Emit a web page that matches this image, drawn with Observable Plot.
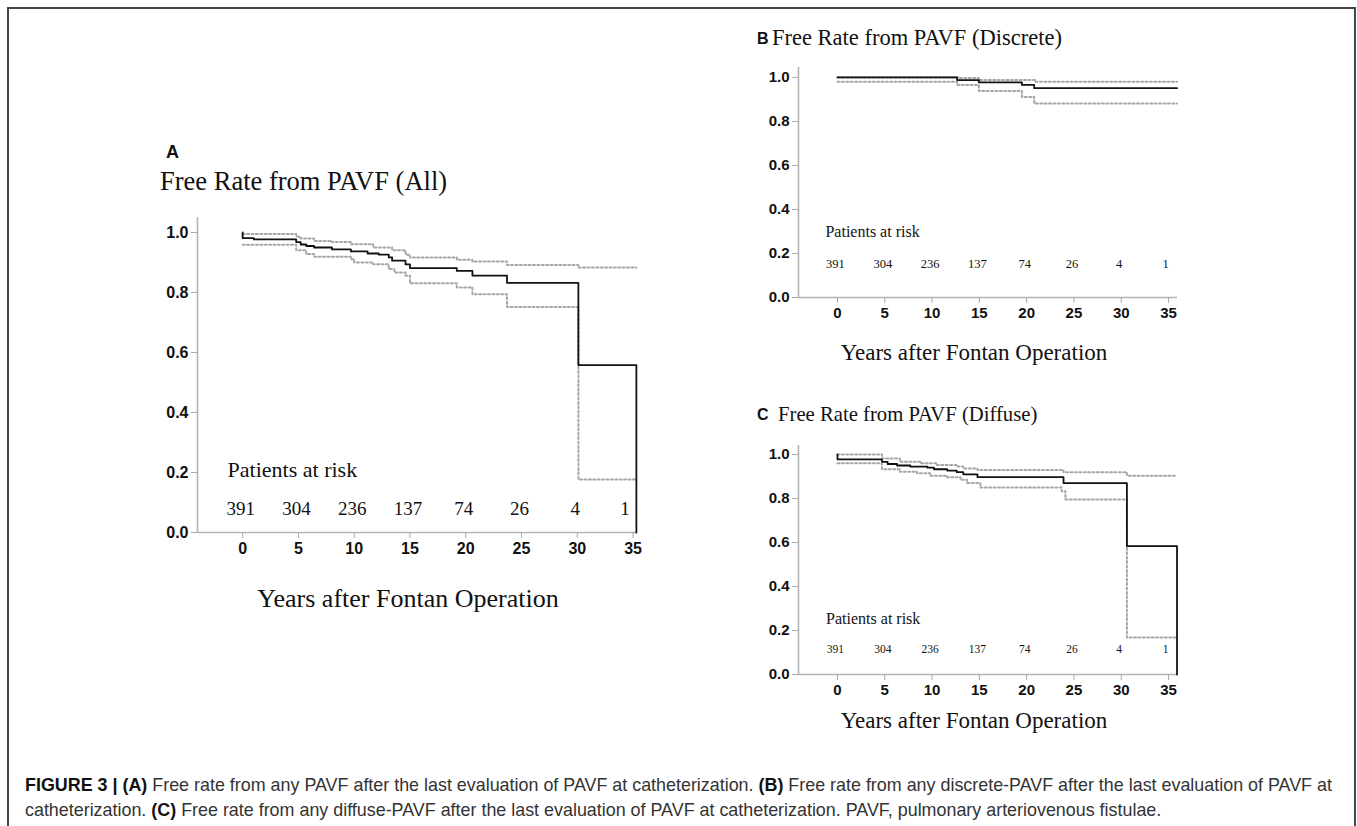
<!DOCTYPE html>
<html>
<head>
<meta charset="utf-8">
<script src="https://cdn.jsdelivr.net/npm/d3@7"></script>
<script src="https://cdn.jsdelivr.net/npm/@observablehq/plot@0.6"></script>
<style>
  html, body { margin: 0; padding: 0; background: #fff; }
  #page { position: relative; width: 1357px; height: 826px; overflow: hidden; background: #fff; }
  #frame { position: absolute; left: 7px; top: 7px; width: 1349px; height: 900px; border: 2px solid #444; box-sizing: border-box; }
  .panel { position: absolute; }
  #overlay { position: absolute; left: 0; top: 0; }
</style>
</head>
<body>
<div id="page">
  <div id="frame"></div>
  <svg id="overlay" width="1357" height="826"></svg>
</div>
<script>
// ---------------- DATA ----------------
const yearTicks = [0, 5, 10, 15, 20, 25, 30, 35];
const survTicks = [0, 0.2, 0.4, 0.6, 0.8, 1.0];
const atRisk = [391, 304, 236, 137, 74, 26, 4, 1];

// Panel A: all PAVF
const aMainT = [0, 0, 1.0, 4.8, 5.2, 5.7, 6.4, 8.0, 9.7, 11.2, 12.2, 13.1, 13.4, 14.6, 15.0, 19.2, 20.6, 23.7, 30.1, 35.3, 35.3];
const aMainS = [1.0, 0.981, 0.977, 0.968, 0.96, 0.955, 0.95, 0.944, 0.937, 0.93, 0.926, 0.917, 0.906, 0.894, 0.881, 0.872, 0.856, 0.832, 0.558, 0.558, 0.0];
const aUpT = [0, 4.8, 5.2, 6.4, 8.0, 9.7, 11.7, 13.4, 14.6, 15.0, 19.2, 20.6, 23.7, 30.1, 35.3];
const aUpS = [0.995, 0.986, 0.98, 0.972, 0.968, 0.961, 0.95, 0.941, 0.926, 0.917, 0.909, 0.903, 0.892, 0.883, 0.883];
const aLoT = [0, 4.8, 5.7, 6.4, 9.7, 10.0, 11.7, 13.1, 13.6, 14.6, 15.0, 19.2, 20.6, 23.7, 30.1, 35.3];
const aLoS = [0.959, 0.941, 0.928, 0.919, 0.911, 0.9, 0.894, 0.878, 0.867, 0.856, 0.831, 0.817, 0.794, 0.752, 0.177, 0.177];

// Panel B: discrete PAVF
const bMainT = [0, 12.65, 14.95, 19.5, 20.8, 35.9];
const bMainS = [1.0, 0.988, 0.977, 0.966, 0.951, 0.951];
const bUpT = [0, 12.8, 14.95, 20.9, 35.9];
const bUpS = [1.0, 0.997, 0.988, 0.98, 0.98];
const bLoT = [0, 12.65, 14.95, 19.5, 20.8, 35.9];
const bLoS = [0.98, 0.965, 0.938, 0.911, 0.882, 0.882];

// Panel C: diffuse PAVF
const cMainT = [0, 0, 4.7, 5.3, 6.3, 7.7, 9.5, 10.2, 11.6, 12.6, 13.3, 14.8, 23.9, 30.6, 35.9, 35.9];
const cMainS = [1.0, 0.978, 0.967, 0.957, 0.95, 0.945, 0.94, 0.933, 0.927, 0.92, 0.91, 0.897, 0.87, 0.584, 0.584, 0.0];
const cUpT = [0, 4.7, 6.6, 8.8, 10.5, 12.6, 13.3, 14.8, 23.9, 30.6, 35.9];
const cUpS = [1.0, 0.982, 0.967, 0.96, 0.952, 0.945, 0.937, 0.93, 0.919, 0.904, 0.904];
const cLoT = [0, 4.7, 6.6, 8.4, 9.8, 11.6, 13.0, 13.7, 15.1, 23.7, 24.1, 30.6, 35.8];
const cLoS = [0.96, 0.933, 0.922, 0.915, 0.903, 0.897, 0.885, 0.87, 0.85, 0.833, 0.796, 0.168, 0.168];

const titleA = "Free Rate from PAVF (All)";
const titleB = "Free Rate from PAVF (Discrete)";
const titleC = "Free Rate from PAVF (Diffuse)";
const xTitle = "Years after Fontan Operation";
const riskTitle = "Patients at risk";

// ---------------- DRAWING ----------------
const SERIF = "'Liberation Serif', 'Times New Roman', serif";
const SANS = "'Liberation Sans', Arial, Helvetica, sans-serif";
const zip = (t, s) => t.map((v, i) => ({t: v, s: s[i]}));

function panel(cfg) {
  const risk = yearTicks.map((y, i) => ({x: y, n: atRisk[i]}));
  const line = (t, s, opts) => Plot.line(zip(t, s), {x: "t", y: "s", curve: "step-after", ...opts});
  const ci = {stroke: "#a6a6a6", strokeWidth: 2, strokeDasharray: "2,2.4"};
  const chart = Plot.plot({
    width: cfg.width, height: cfg.height,
    marginLeft: cfg.ml, marginRight: cfg.mr, marginTop: cfg.mt, marginBottom: cfg.mb,
    x: {domain: cfg.xDomain},
    y: {domain: cfg.yDomain},
    style: {background: "transparent", overflow: "visible", fontFamily: SANS},
    marks: [
      Plot.ruleX([cfg.xDomain[0]], {stroke: "#b4b4b4", strokeWidth: 1.6}),
      Plot.ruleY([0], {stroke: "#b4b4b4", strokeWidth: 1.6}),
      Plot.axisY({ticks: survTicks, tickFormat: d3.format(".1f"), tickSize: 6, tickPadding: 3,
        stroke: "#aaa", fill: "#111", fontSize: cfg.tickFont, fontWeight: "bold", fontFamily: SANS, label: null}),
      Plot.axisX({ticks: yearTicks, tickFormat: d3.format("d"), tickSize: 6, tickPadding: 4,
        stroke: "#aaa", fill: "#111", fontSize: cfg.tickFont, fontWeight: "bold", fontFamily: SANS, label: null}),
      line(cfg.up[0], cfg.up[1], ci),
      line(cfg.lo[0], cfg.lo[1], ci),
      line(cfg.main[0], cfg.main[1], {stroke: "#111", strokeWidth: 1.8}),
      Plot.text([riskTitle], {x: cfg.riskTitleX, y: cfg.riskTitleY, text: d => d, textAnchor: "start",
        fontFamily: SERIF, fontSize: cfg.riskTitleFont, fill: "#111"}),
      Plot.text(risk.slice(0, -1), {x: "x", y: cfg.riskY, text: "n", fontFamily: SERIF, fontSize: cfg.riskFont, fill: "#111", dx: -2}),
      Plot.text(risk.slice(-1), {x: "x", y: cfg.riskY, text: "n", fontFamily: SERIF, fontSize: cfg.riskFont, fill: "#111", dx: cfg.lastDx})
    ]
  });
  chart.classList.add("panel");
  chart.style.left = cfg.left + "px";
  chart.style.top = cfg.top + "px";
  chart.style.position = "absolute";
  document.getElementById("page").appendChild(chart);
}

panel({left: 120, top: 200, width: 540, height: 370, ml: 77, mr: 23, mt: 17, mb: 38,
  xDomain: [-4.05, 35.4], yDomain: [0, 1.05], tickFont: 16,
  main: [aMainT, aMainS], up: [aUpT, aUpS], lo: [aLoT, aLoS],
  riskTitleX: -1.35, riskTitleY: 0.21, riskTitleFont: 22, riskY: 0.08, riskFont: 19, lastDx: -8});

panel({left: 740, top: 50, width: 460, height: 290, ml: 58, mr: 23, mt: 17, mb: 43,
  xDomain: [-4.12, 35.95], yDomain: [0, 1.045], tickFont: 15,
  main: [bMainT, bMainS], up: [bUpT, bUpS], lo: [bLoT, bLoS],
  riskTitleX: -1.27, riskTitleY: 0.30, riskTitleFont: 16, riskY: 0.15, riskFont: 12.5, lastDx: -3});

panel({left: 740, top: 428, width: 460, height: 290, ml: 58, mr: 23, mt: 17, mb: 44,
  xDomain: [-4.12, 35.95], yDomain: [0, 1.041], tickFont: 15,
  main: [cMainT, cMainS], up: [cUpT, cUpS], lo: [cLoT, cLoS],
  riskTitleX: -1.2, riskTitleY: 0.255, riskTitleFont: 16, riskY: 0.114, riskFont: 11.5, lastDx: -3});

// ---------------- TEXT OVERLAY ----------------
const ov = d3.select("#overlay");
function txt(x, y, s, font, size, opts = {}) {
  const t = ov.append("text").attr("x", x).attr("y", y).attr("font-family", font)
    .attr("font-size", size).attr("fill", opts.fill || "#111").text(s);
  if (opts.anchor) t.attr("text-anchor", opts.anchor);
  if (opts.weight) t.attr("font-weight", opts.weight);
  return t;
}
txt(166, 158, "A", SANS, 18, {weight: "bold"});
txt(160, 190, titleA, SERIF, 26.5);
txt(408, 607, xTitle, SERIF, 26, {anchor: "middle"});

txt(757, 44, "B", SANS, 16, {weight: "bold"});
txt(772, 45, titleB, SERIF, 22.5);
txt(974, 360, xTitle, SERIF, 23, {anchor: "middle"});

txt(757, 420, "C", SANS, 16, {weight: "bold"});
txt(778, 421, titleC, SERIF, 20.7);
txt(974, 728, xTitle, SERIF, 23, {anchor: "middle"});

function caption(x, y, parts) {
  const t = ov.append("text").attr("x", x).attr("y", y).attr("font-family", SANS).attr("font-size", 17.9).attr("fill", "#333");
  parts.forEach(([s, b]) => {
    const ts = t.append("tspan").text(s);
    if (b) ts.attr("font-weight", "bold").attr("fill", "#111");
  });
}
caption(25, 791, [["FIGURE 3 | (A)", true], [" Free rate from any PAVF after the last evaluation of PAVF at catheterization. ", false],
  ["(B)", true], [" Free rate from any discrete-PAVF after the last evaluation of PAVF at", false]]);
caption(25, 816, [["catheterization. ", false], ["(C)", true],
  [" Free rate from any diffuse-PAVF after the last evaluation of PAVF at catheterization. PAVF, pulmonary arteriovenous fistulae.", false]]);
</script>
</body>
</html>
